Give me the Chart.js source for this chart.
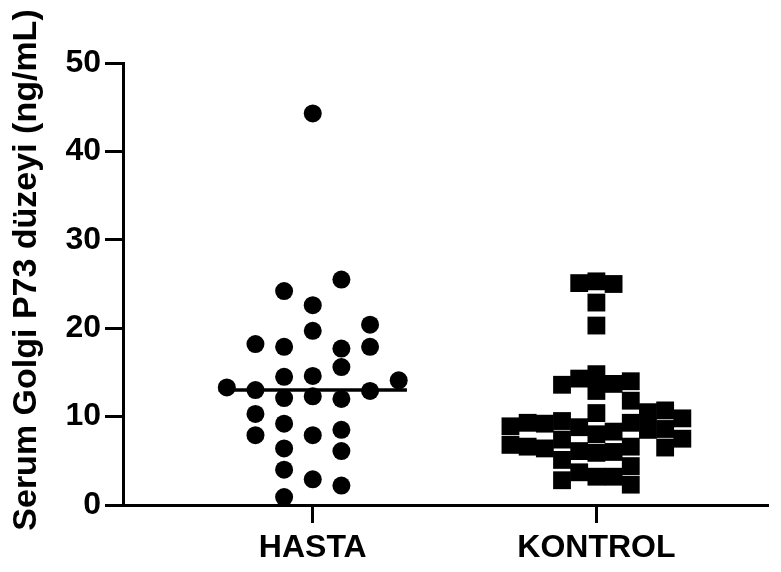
<!DOCTYPE html>
<html lang="tr">
<head>
<meta charset="UTF-8">
<title>Serum Golgi P73</title>
<script src="https://cdn.jsdelivr.net/npm/chart.js"></script>
<style>
    html, body { margin: 0; padding: 0; background: #fff; }
    #wrap { width: 781px; height: 572px; }
</style>
</head>
<body>
<div id="wrap"><canvas id="grafico"></canvas></div>
<script>
    // grupos e valores
    const grupos = ['HASTA', 'KONTROL'];
    const yTicks = [0, 10, 20, 30, 40, 50];
    const tituloY = 'Serum Golgi P73 düzeyi (ng/mL)';

    const hastaValores = [25.5, 24.2, 22.6, 19.7, 20.4, 18.2, 17.9, 17.7, 17.9, 15.6,
        14.5, 14.6, 13.3, 13.0, 12.1, 12.3, 12.0, 12.9, 14.1, 10.3,
        7.9, 9.2, 7.9, 8.5, 6.4, 6.1, 4.0, 2.9, 2.2, 0.9, 44.3];
    // coluna de cada ponto dentro do grupo (espalhamento)
    const hastaColunas = [1, -1, 0, 0, 2, -2, -1, 1, 2, 1,
        -1, 0, -3, -2, -1, 0, 1, 2, 3, -2,
        -2, -1, 0, 1, -1, 1, -1, 0, 1, -1, 0];

    const kontrolValores = [25.1, 25.3, 25.0, 22.9, 20.3,
        13.6, 14.3, 14.8, 12.9, 13.7, 14.0, 11.8, 10.4,
        10.5, 10.7, 9.8, 8.5, 8.6, 7.5, 6.5, 9.3, 6.6, 4.4, 2.3,
        8.3, 6.0, 3.2,
        8.0, 5.9, 3.2,
        8.8, 6.1, 3.7,
        9.5, 7.4, 5.1, 2.8,
        9.2, 6.4,
        9.3, 6.6,
        8.9, 6.8];
    const kontrolColunas = [-1, 0, 1, 0, 0,
        -2, -1, 0, 0, 1, 2, 2, 0,
        3, 4, 5, 3, 4, 5, 4, 2, 2, 2, 2,
        1, 1, 1,
        0, 0, 0,
        -1, -1, -1,
        -2, -2, -2, -2,
        -3, -3,
        -4, -4,
        -5, -5];

    const passoHasta = 0.101;
    const passoKontrol = 0.0606;
    const larguraMediana = 0.332;

    function mediana(arr) {
        const s = arr.slice().sort((a, b) => a - b);
        const m = Math.floor(s.length / 2);
        return s.length % 2 ? s[m] : (s[m - 1] + s[m]) / 2;
    }

    const pontosHasta = hastaValores.map((v, i) => ({ x: 1 + hastaColunas[i] * passoHasta, y: v }));
    const pontosKontrol = kontrolValores.map((v, i) => ({ x: 2 + kontrolColunas[i] * passoKontrol, y: v }));
    const medHasta = mediana(hastaValores);

    const fonte = 'Liberation Sans, Arial, Helvetica, sans-serif';

    // título do eixo Y desenhado à mão (posição igual à figura)
    const pluginTitulo = {
        id: 'tituloY',
        afterDraw(chart) {
            const ctx = chart.ctx;
            ctx.save();
            ctx.translate(27, 270);
            ctx.rotate(-Math.PI / 2);
            ctx.font = 'bold 34px ' + fonte;
            ctx.fillStyle = '#000';
            ctx.textAlign = 'center';
            ctx.textBaseline = 'middle';
            ctx.fillText(tituloY, 0, 0);
            ctx.restore();
        }
    };

    const config = {
        type: 'scatter',
        data: {
            datasets: [
                {
                    label: 'Mediana HASTA',
                    type: 'line',
                    data: [{ x: 1 - larguraMediana, y: medHasta }, { x: 1 + larguraMediana, y: medHasta }],
                    borderColor: '#000',
                    borderWidth: 3.5,
                    pointRadius: 0,
                    order: 0
                },
                {
                    label: 'HASTA',
                    data: pontosHasta,
                    pointStyle: 'circle',
                    pointRadius: 9,
                    backgroundColor: '#000',
                    borderWidth: 0,
                    order: 1
                },
                {
                    label: 'KONTROL',
                    data: pontosKontrol,
                    pointStyle: 'rect',
                    pointRadius: 12.6,
                    backgroundColor: '#000',
                    borderWidth: 0,
                    order: 2
                }
            ]
        },
        plugins: [pluginTitulo],
        options: {
            responsive: false,
            animation: false,
            layout: {
                padding: { left: 0, right: 13, top: 63, bottom: 0 }
            },
            plugins: {
                legend: { display: false },
                tooltip: { enabled: false }
            },
            scales: {
                x: {
                    type: 'linear',
                    min: 0.331,
                    max: 2.605,
                    afterBuildTicks: (scale) => {
                        scale.ticks = grupos.map((g, i) => ({ value: i + 1 }));
                    },
                    afterFit: (scale) => { scale.height = 67; },
                    ticks: {
                        color: '#000',
                        padding: 6,
                        maxRotation: 0,
                        autoSkip: false,
                        font: { family: fonte, size: 32, weight: 'bold' },
                        callback: (value) => grupos[Math.round(value) - 1]
                    },
                    grid: {
                        drawOnChartArea: false,
                        drawTicks: true,
                        tickLength: 18,
                        tickWidth: 3,
                        tickColor: '#000'
                    },
                    border: { display: true, color: '#000', width: 3 }
                },
                y: {
                    min: 0,
                    max: 50,
                    afterBuildTicks: (scale) => {
                        scale.ticks = yTicks.map(v => ({ value: v }));
                    },
                    afterFit: (scale) => { scale.width = 123; },
                    ticks: {
                        color: '#000',
                        padding: 4,
                        font: { family: fonte, size: 32, weight: 'bold' }
                    },
                    grid: {
                        drawOnChartArea: false,
                        drawTicks: true,
                        tickLength: 18,
                        tickWidth: 3,
                        tickColor: '#000'
                    },
                    border: { display: true, color: '#000', width: 3 }
                }
            }
        }
    };

    const canvas = document.getElementById('grafico');
    canvas.width = 781;
    canvas.height = 572;
    const grafico = new Chart(canvas, config);
</script>
</body>
</html>
